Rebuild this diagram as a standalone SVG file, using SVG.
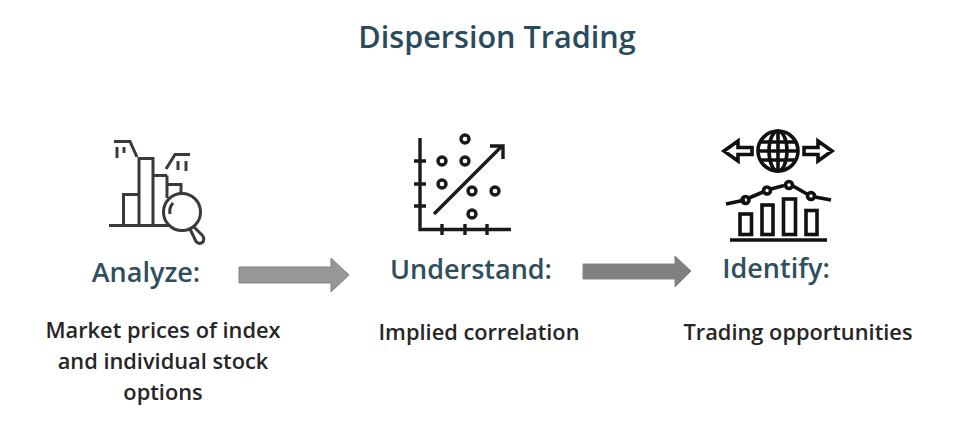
<svg xmlns="http://www.w3.org/2000/svg" width="962" height="424" viewBox="0 0 962 424">
<style>
text{font-family:"Open Sans","Noto Sans","Liberation Sans",sans-serif;text-anchor:middle}
.title{font-size:30.600px;font-weight:600;fill:#2a4b5c}
.head{font-size:27px;font-weight:600;fill:#2f4f5c}
.body{font-size:21.800px;font-weight:600;fill:#262626}
.i1{fill:none;stroke:#3a3a3a;stroke-width:3}
.i2{fill:none;stroke:#1a1a1a;stroke-width:3.400}
.i3{fill:none;stroke:#111;stroke-width:3.600}
.arr{stroke:#858585;stroke-width:1}
</style>
<rect width="962" height="424" fill="#fff"/>
<text class="title" x="497" y="48">Dispersion Trading</text>
<g id="node-analyze">
<g class="i1">
<path d="M109 225.500H170M123.500 225V194.500H139M139 225V158.500H153V225M153 175.500H167M167 198V175.500M167 184.500H181V195"/>
<circle cx="182" cy="212" r="18.500" fill="#fff"/>
<path d="M170 214A13 13 0 0 1 173 203"/>
<path d="M190 229L196 241.500Q199 245 203 242Q205 238 202 235L194 227"/>
<path d="M114 141.500H130L137 157M117 147V158M124 147V153M166 169L175 154.500H190M178 161V170M186 161V171"/>
</g>
<text class="head" x="146" y="282">Analyze:</text>
<text class="body" x="163" y="338">Market prices of index</text>
<text class="body" x="163" y="369">and individual stock</text>
<text class="body" x="163" y="400">options</text>
</g>
<g id="node-understand">
<g class="i2">
<path d="M420 138V229.500H511"/>
<path d="M414 161H426M414 184H426M414 206H426M442 224V235M465 224V235M487 224V235"/>
<path d="M434 214L501 147"/>
<path d="M490 146H503V159"/>
<circle cx="465" cy="139" r="4"/>
<circle cx="442" cy="161" r="4"/>
<circle cx="465" cy="161" r="4"/>
<circle cx="442" cy="184" r="4"/>
<circle cx="472" cy="191" r="4"/>
<circle cx="495" cy="191" r="4"/>
<circle cx="472" cy="214" r="4"/>
</g>
<text class="head" x="471" y="279">Understand:</text>
<text class="body" x="479" y="340">Implied correlation</text>
</g>
<g id="node-identify">
<g class="i3">
<circle cx="778" cy="151" r="20"/>
<ellipse cx="778" cy="151" rx="9" ry="20"/>
<path d="M778 131V171M760 142H796M758 151H798M760 160H796"/>
<path d="M752 147.500H738V141L724 151L738 161V154.500H752ZM804 147.500H818V141L832 151L818 161V154.500H804Z"/>
<path d="M726 204L745 200M749 198L763 192M771 189L784 185.500M793 186L807 194M815 197L831 200"/>
<circle cx="745.500" cy="200" r="3.500"/>
<circle cx="767" cy="190.500" r="3.500"/>
<circle cx="789" cy="185" r="3.500"/>
<circle cx="811" cy="196" r="3.500"/>
<rect x="740" y="214" width="11.500" height="20.500"/>
<rect x="762" y="205" width="11" height="29.500"/>
<rect x="783.500" y="199" width="12" height="35.500"/>
<rect x="806" y="210.500" width="11" height="24"/>
<path d="M730 240H827"/>
</g>
<text class="head" x="776" y="278">Identify:</text>
<text class="body" x="798" y="340">Trading opportunities</text>
</g>
<g id="connectors">
<path class="arr" fill="#979797" d="M239 267H331V258L349 275L331 292V283H239Z"/>
<path class="arr" fill="#808080" d="M583 264H675V256L691 271L675 287V279H583Z"/>
</g>
</svg>
